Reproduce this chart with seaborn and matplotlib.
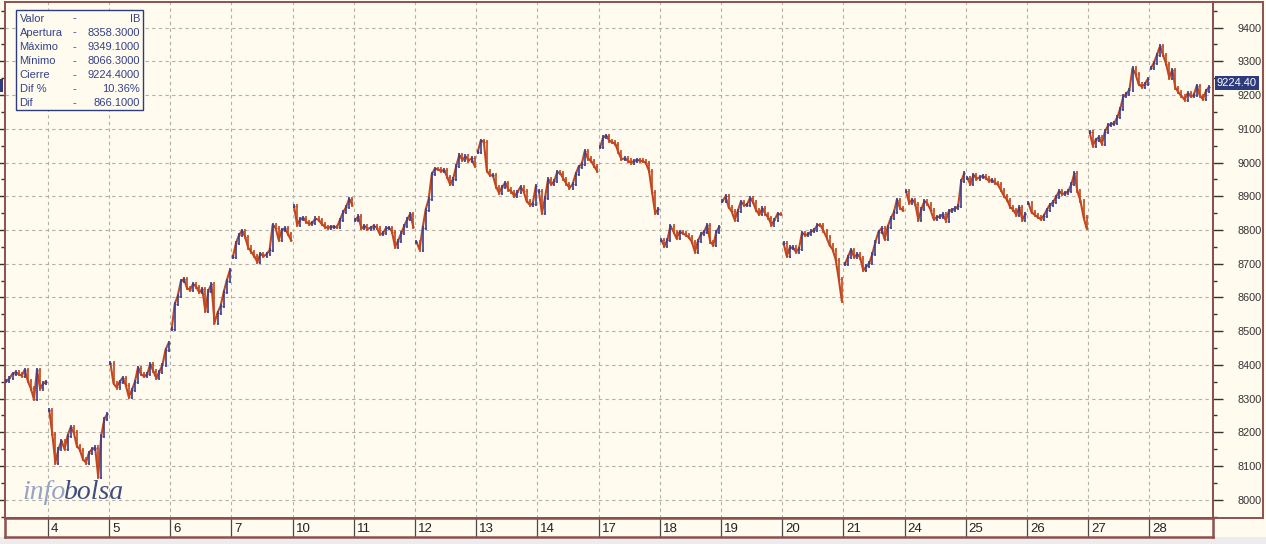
"""
Intraday IBEX bar chart (infobolsa style) rebuilt with seaborn + matplotlib.
"""

import numpy as np
import pandas as pd
import matplotlib
matplotlib.use("Agg")
import matplotlib.pyplot as plt
from matplotlib.patches import Rectangle
from matplotlib.ticker import MultipleLocator
import seaborn as sns

# --- sessions: close of each slot (20 slots per session) ---
day_labels = [3, 4, 5, 6, 7, 10, 11, 12, 13, 14, 17, 18, 19, 20, 21, 24, 25, 26, 27, 28]

d03 = [8352, 8360, 8374, 8378, 8372, 8368, 8386, 8352, 8330, 8298, 8386, 8330, 8345, 8350]
d04 = [8265, 8195, 8110, 8150, 8175, 8150, 8190, 8215, 8200, 8160,
       8148, 8120, 8110, 8140, 8150, 8155, 8068, 8190, 8240, 8255]
d05 = [8405, 8345, 8333, 8350, 8362, 8340, 8305, 8325, 8350, 8392,
       8372, 8366, 8372, 8402, 8382, 8360, 8380, 8400, 8445, 8465]
d06 = [8505, 8580, 8605, 8648, 8655, 8628, 8622, 8640, 8632, 8615,
       8625, 8560, 8620, 8640, 8525, 8555, 8575, 8615, 8650, 8680]
d07 = [8720, 8760, 8785, 8798, 8780, 8748, 8735, 8722, 8705, 8730,
       8722, 8728, 8740, 8815, 8805, 8770, 8800, 8805, 8788, 8770]
d10 = [8870, 8815, 8832, 8836, 8824, 8818, 8822, 8834, 8830, 8818,
       8810, 8806, 8810, 8810, 8808, 8830, 8852, 8868, 8892, 8875]
d11 = [8830, 8840, 8805, 8812, 8803, 8807, 8812, 8807, 8788, 8790,
       8805, 8807, 8795, 8750, 8768, 8790, 8812, 8832, 8848, 8808]
d12 = [8765, 8742, 8805, 8860, 8892, 8965, 8982, 8980, 8975, 8978,
       8958, 8935, 8952, 8990, 9022, 9008, 9018, 9006, 9012, 8990]
d13 = [9030, 9065, 9062, 8975, 8962, 8962, 8928, 8910, 8928, 8940,
       8920, 8914, 8900, 8912, 8928, 8915, 8885, 8875, 8878, 8930]
d14 = [8915, 8850, 8895, 8950, 8935, 8945, 8972, 8968, 8952, 8937,
       8925, 8935, 8965, 8988, 8995, 9034, 9012, 9005, 8990, 8975]
d17 = [9045, 9075, 9080, 9065, 9060, 9055, 9030, 9010, 9012, 9006,
       9000, 9004, 9008, 9006, 9004, 8998, 8975, 8912, 8850, 8862]
d18 = [8770, 8752, 8770, 8812, 8795, 8775, 8795, 8790, 8785, 8778,
       8765, 8735, 8768, 8788, 8795, 8815, 8765, 8755, 8795, 8810]
d19 = [8885, 8900, 8868, 8855, 8830, 8856, 8884, 8874, 8875, 8895,
       8882, 8858, 8846, 8864, 8848, 8836, 8815, 8830, 8848, 8846]
d20 = [8760, 8722, 8748, 8748, 8735, 8745, 8792, 8784, 8788, 8796,
       8800, 8815, 8814, 8798, 8778, 8755, 8742, 8712, 8655, 8590]
d21 = [8698, 8720, 8742, 8720, 8728, 8718, 8680, 8692, 8702, 8730,
       8765, 8795, 8805, 8772, 8810, 8835, 8852, 8890, 8865, 8858]
d24 = [8915, 8880, 8890, 8878, 8830, 8862, 8886, 8878, 8860, 8832,
       8838, 8840, 8846, 8828, 8856, 8860, 8864, 8870, 8945, 8968]
d25 = [8955, 8935, 8964, 8952, 8956, 8960, 8954, 8946, 8948, 8940,
       8935, 8918, 8900, 8890, 8868, 8860, 8845, 8868, 8830, 8848]
d26 = [8880, 8852, 8845, 8838, 8832, 8842, 8860, 8875, 8882, 8898,
       8915, 8906, 8910, 8915, 8935, 8968, 8915, 8886, 8838, 8805]
d27 = [9090, 9050, 9068, 9075, 9055, 9092, 9110, 9115, 9116, 9134,
       9160, 9196, 9204, 9216, 9280, 9262, 9232, 9225, 9232, 9248]
d28 = [9280, 9296, 9320, 9345, 9318, 9292, 9252, 9275, 9222, 9208,
       9198, 9186, 9205, 9196, 9200, 9228, 9198, 9188, 9212, 9224]

sessions = [d03, d04, d05, d06, d07, d10, d11, d12, d13, d14,
            d17, d18, d19, d20, d21, d24, d25, d26, d27, d28]

info_labels = ["Valor", "Apertura", "Máximo", "Mínimo", "Cierre", "Dif %", "Dif"]
info_values = ["IB", "8358.3000", "9349.1000", "8066.3000", "9224.4000", "10.36%", "866.1000"]
last_price = 9224.40

# --- colours ---
CREAM = "#fffbef"
BORDER = "#8e4f4f"
GRID = "#b4b0a8"
UP = "#3b3f8e"
DOWN = "#c2471f"
NAVY = "#2e3b7c"
TXT = "#34418a"

W, H = 1266, 544
SLOTS = 20


def fx(px):
    return px / W


def fy(py):
    return 1 - py / H


# build bar table
rows = []
for d, vals in enumerate(sessions):
    start = SLOTS - len(vals)
    for k, v in enumerate(vals):
        rows.append({
            "day": day_labels[d],
            "x": d + (start + k + 0.5) / SLOTS,
            "open": vals[k - 1] if k > 0 else v,
            "close": v,
        })
df = pd.DataFrame(rows)
wick = 6
df["high"] = df[["open", "close"]].max(axis=1) + wick
df["low"] = df[["open", "close"]].min(axis=1) - wick
df["color"] = np.where(df["close"] >= df["open"], UP, DOWN)

sns.set_theme(style="white", rc={"axes.facecolor": CREAM, "figure.facecolor": CREAM})
plt.rcParams["font.family"] = ["Liberation Sans", "DejaVu Sans"]

fig = plt.figure(figsize=(W / 100, H / 100), dpi=100)

# main price panel
ax = fig.add_axes([fx(5), fy(518), fx(1208), (518 - 2) / H])
sns.lineplot(data=df, x="x", y="close", units="day", estimator=None,
             color=DOWN, lw=1.5, ax=ax, zorder=2)
ax.vlines(df["x"], df["low"], df["high"], colors=df["color"], lw=1.2, zorder=3)
tick = 0.016
ax.hlines(df["open"], df["x"] - tick, df["x"], colors=df["color"], lw=1.0, zorder=3)
ax.hlines(df["close"], df["x"], df["x"] + tick, colors=df["color"], lw=1.0, zorder=3)

ax.set_xlim(0.302, 20.04)
ax.set_ylim(7946, 9476)
ax.set_xticks(range(1, 20))
ax.yaxis.set_major_locator(MultipleLocator(100))
ax.yaxis.set_minor_locator(MultipleLocator(50))
ax.grid(True, which="major", color=GRID, lw=0.8, linestyle=(0, (3, 3)))
ax.set_xlabel("")
ax.set_ylabel("")
ax.tick_params(axis="x", length=0, labelbottom=False)
ax.tick_params(axis="y", which="both", left=True, right=True, labelleft=False,
               labelright=True, direction="out", colors="#333333",
               labelsize=7.8, pad=11)
ax.tick_params(axis="y", which="major", length=7, width=1)
ax.tick_params(axis="y", which="minor", length=3, width=1)
for s in ax.spines.values():
    s.set_color(BORDER)
    s.set_linewidth(1.4)

# last price tag on the right axis
ax.text(1.003, last_price + 12, f"{last_price:.2f}", transform=ax.get_yaxis_transform(),
        ha="left", va="center", color="white", fontsize=8, clip_on=False, zorder=10,
        bbox=dict(boxstyle="square,pad=0.18", facecolor=NAVY, edgecolor="none"))

# right axis panel frame
fig.add_artist(Rectangle((fx(1213), fy(518)), fx(1262.5 - 1213), (518 - 2) / H,
                         transform=fig.transFigure, fill=False, edgecolor=BORDER,
                         lw=1.4, zorder=4))
# cut-off tag at the far left
fig.add_artist(Rectangle((0, fy(92)), fx(3), 13 / H, transform=fig.transFigure,
                         facecolor=NAVY, edgecolor="none", zorder=5))

# date strip
ax2 = fig.add_axes([fx(5), fy(537), fx(1208), (537 - 518) / H])
ax2.set_xlim(ax.get_xlim())
ax2.set_ylim(0, 1)
ax2.vlines(range(1, 20), 0, 1, colors="#4a4a4a", lw=0.9)
for b, lab in zip(range(1, 20), day_labels[1:]):
    ax2.text(b + 0.05, 0.42, str(lab), ha="left", va="center", fontsize=9.5, color="#222222")
ax2.set_xticks([])
ax2.set_yticks([])
for s in ax2.spines.values():
    s.set_color(BORDER)
    s.set_linewidth(1.8)

# toolbar strip at the very bottom
fig.add_artist(Rectangle((0, 0), 1, 7 / H, transform=fig.transFigure,
                         facecolor="#ececec", edgecolor="none", zorder=-1))

# info box
fig.add_artist(Rectangle((fx(16), fy(110)), fx(126.5), 100 / H, transform=fig.transFigure,
                         facecolor=CREAM, edgecolor=NAVY, lw=1.0, zorder=6))
for i, (lab, val) in enumerate(zip(info_labels, info_values)):
    yy = fy(18.5 + i * 14.1)
    fig.text(fx(19.5), yy, lab, ha="left", va="center", fontsize=8, color=TXT, zorder=7)
    fig.text(fx(74), yy, "-", ha="center", va="center", fontsize=8, color=TXT, zorder=7)
    fig.text(fx(140), yy, val, ha="right", va="center", fontsize=8, color=TXT, zorder=7)

# watermark
t1 = fig.text(fx(22), fy(499), "info", ha="left", va="baseline", fontsize=20,
              family="Liberation Serif", style="italic", color="#97a3c2", zorder=7)
ax.annotate("bolsa", xy=(1, 0), xycoords=t1, xytext=(-1, 0), textcoords="offset points",
            ha="left", va="bottom", fontsize=20,
            family="Liberation Serif", style="italic", color="#3e4d80",
            annotation_clip=False, zorder=7)

fig.savefig("out.png", dpi=100, facecolor=CREAM)
